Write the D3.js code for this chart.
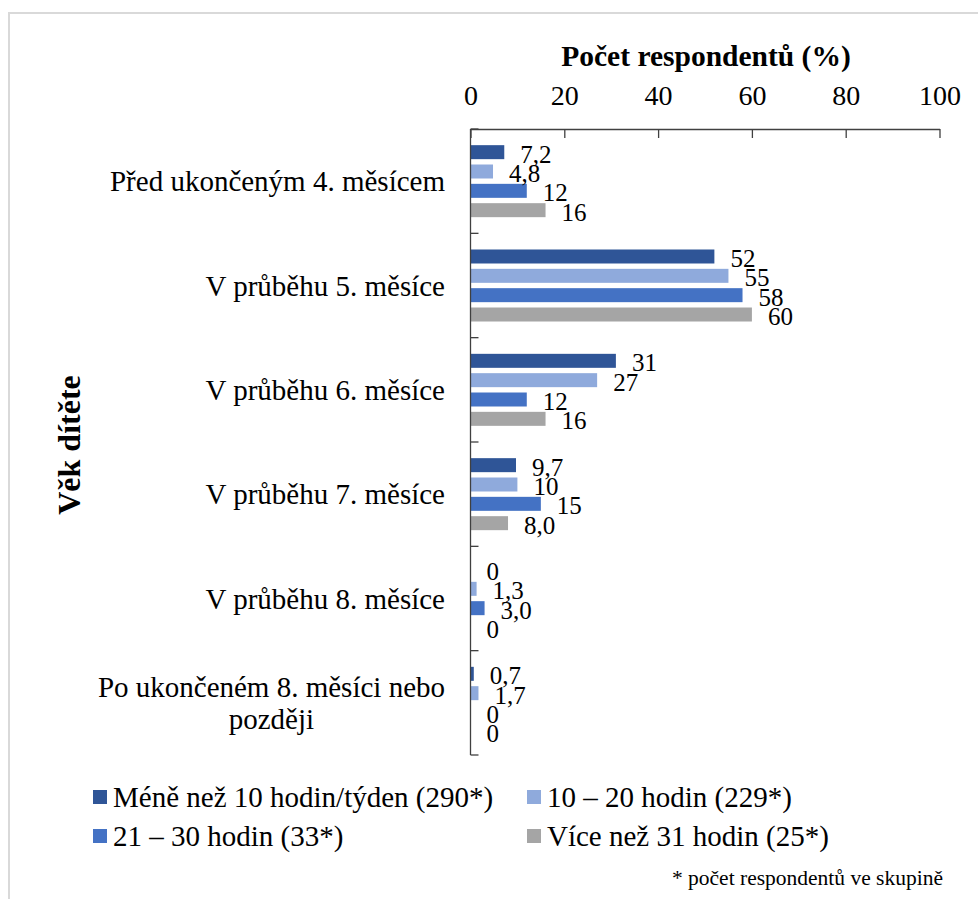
<!DOCTYPE html>
<html>
<head>
<meta charset="utf-8">
<script src="https://cdn.jsdelivr.net/npm/d3@7"></script>
<style>
  html, body { margin: 0; padding: 0; background: #fff; }
  svg { display: block; }
</style>
</head>
<body>
<svg id="chart" width="978" height="899" font-family="Liberation Serif"></svg>
<script>
// Age of the child at which complementary feeding started, by weekly working hours of the mother
const categories = [
  "Před ukončeným 4. měsícem",
  "V průběhu 5. měsíce",
  "V průběhu 6. měsíce",
  "V průběhu 7. měsíce",
  "V průběhu 8. měsíce",
  "Po ukončeném 8. měsíci nebo později"
];
const seriesNames = [
  "Méně než 10 hodin/týden (290*)",
  "10 – 20 hodin (229*)",
  "21 – 30 hodin (33*)",
  "Více než 31 hodin (25*)"
];
const seriesColors = ["#2F5597", "#8FAADC", "#4472C4", "#A5A5A5"];
const lessThan10 = [7.2, 52, 31, 9.7, 0, 0.7];
const from10to20 = [4.8, 55, 27, 10, 1.3, 1.7];
const from21to30 = [12, 58, 12, 15, 3.0, 0];
const moreThan31 = [16, 60, 16, 8.0, 0, 0];
const xTicks = [0, 20, 40, 60, 80, 100];

const seriesValues = [lessThan10, from10to20, from21to30, moreThan31];
const FONT = "Liberation Serif";

const svg = d3.select("#chart");

// outer frame
svg.append("rect")
  .attr("x", 9).attr("y", 13).attr("width", 990).attr("height", 920)
  .attr("fill", "none").attr("stroke", "#d9d9d9").attr("stroke-width", 2);

const plot = { left: 470.5, right: 939.5, top: 129, bottom: 755 };

const x = d3.scaleLinear().domain([0, 100]).range([plot.left, plot.right]);
const y0 = d3.scaleBand().domain(categories).range([plot.top, plot.bottom]).padding(0);
const y1 = d3.scaleBand().domain(seriesNames)
  .range([0, y0.bandwidth()]).paddingInner(0.276).paddingOuter(0.836);

const locale = d3.formatLocale({ decimal: ",", thousands: " ", grouping: [3], currency: ["", " Kč"] });
const fmt1 = locale.format(".1f");
const fmtInt = locale.format("d");
const fmtVal = v => v === 0 ? "0" : (v < 10 ? fmt1(v) : fmtInt(v));

// bars
const groups = svg.append("g").selectAll("g")
  .data(categories)
  .join("g")
  .attr("transform", d => `translate(0,${y0(d)})`);

groups.selectAll("rect")
  .data((c, i) => seriesNames.map((s, k) => ({ s, k, v: seriesValues[k][i] })))
  .join("rect")
  .attr("x", x(0))
  .attr("y", d => y1(d.s))
  .attr("width", d => x(d.v) - x(0))
  .attr("height", y1.bandwidth())
  .attr("fill", d => seriesColors[d.k]);

// value labels
groups.selectAll("text")
  .data((c, i) => seriesNames.map((s, k) => ({ s, k, v: seriesValues[k][i] })))
  .join("text")
  .attr("x", d => x(d.v) + 16)
  .attr("y", d => y1(d.s) + y1.bandwidth() / 2)
  .attr("dy", "0.42em")
  .attr("font-family", FONT)
  .attr("font-size", 25)
  .attr("fill", "#000")
  .text(d => fmtVal(d.v));

// top axis
const xAxis = d3.axisTop(x).tickValues(xTicks).tickSizeInner(-9).tickSizeOuter(0).tickPadding(24)
  .tickFormat(d3.format("d"));
const gx = svg.append("g").attr("transform", `translate(0,${plot.top})`).call(xAxis)
  .attr("font-family", FONT);
gx.select(".domain").attr("stroke", "#404040").attr("stroke-width", 1.3);
gx.selectAll(".tick line").attr("stroke", "#404040").attr("stroke-width", 1.3);
gx.selectAll(".tick text").attr("font-size", 28).attr("fill", "#000");

// left axis: ticks at category boundaries pointing into the plot
const boundaries = d3.range(categories.length + 1).map(i => plot.top + i * y0.step());
const gy = svg.append("g");
gy.append("line")
  .attr("x1", plot.left).attr("x2", plot.left)
  .attr("y1", plot.top).attr("y2", plot.bottom)
  .attr("stroke", "#404040").attr("stroke-width", 1.3);
gy.selectAll("line.tk")
  .data(boundaries)
  .join("line")
  .attr("class", "tk")
  .attr("x1", plot.left).attr("x2", plot.left + 8)
  .attr("y1", d => d).attr("y2", d => d)
  .attr("stroke", "#404040").attr("stroke-width", 1.3);

// category labels (long label wrapped onto two centred lines)
const labelRight = 445;
const catLines = {
  "Po ukončeném 8. měsíci nebo později": ["Po ukončeném 8. měsíci nebo", "později"]
};
categories.forEach(c => {
  const lines = catLines[c] || [c];
  const cy = y0(c) + y0.bandwidth() / 2;
  const t = svg.append("text")
    .attr("font-family", FONT)
    .attr("font-size", 29)
    .attr("fill", "#000");
  const lh = 32;
  const spans = lines.map((ln, i) => t.append("tspan")
    .attr("y", cy + (i - (lines.length - 1) / 2) * lh)
    .attr("dy", "0.35em")
    .text(ln));
  if (lines.length === 1) {
    t.attr("text-anchor", "end");
    spans[0].attr("x", labelRight);
  } else {
    const w = d3.max(spans, s => s.node().getComputedTextLength());
    t.attr("text-anchor", "middle");
    spans.forEach(s => s.attr("x", labelRight - w / 2));
  }
});

// axis titles
svg.append("text")
  .attr("x", (plot.left + plot.right) / 2 + 1)
  .attr("y", 66)
  .attr("text-anchor", "middle")
  .attr("font-family", FONT)
  .attr("font-size", 29.5)
  .attr("font-weight", "bold")
  .text("Počet respondentů (%)");

svg.append("text")
  .attr("transform", "translate(80,445) rotate(-90)")
  .attr("text-anchor", "middle")
  .attr("font-family", FONT)
  .attr("font-size", 32)
  .attr("font-weight", "bold")
  .text("Věk dítěte");

// legend
const legendPos = [
  { x: 93, y: 797 }, { x: 527, y: 797 },
  { x: 93, y: 836 }, { x: 527, y: 836 }
];
const legend = svg.append("g").selectAll("g")
  .data(seriesNames)
  .join("g")
  .attr("transform", (d, i) => `translate(${legendPos[i].x},${legendPos[i].y})`);
legend.append("rect")
  .attr("x", 0).attr("y", -7).attr("width", 14).attr("height", 14)
  .attr("fill", (d, i) => seriesColors[i]);
legend.append("text")
  .attr("x", 20).attr("y", 0).attr("dy", "0.35em")
  .attr("font-family", FONT)
  .attr("font-size", 29)
  .text(d => d);

// footnote
svg.append("text")
  .attr("x", 943).attr("y", 885)
  .attr("text-anchor", "end")
  .attr("font-family", FONT)
  .attr("font-size", 21.5)
  .text("* počet respondentů ve skupině");
</script>
</body>
</html>
